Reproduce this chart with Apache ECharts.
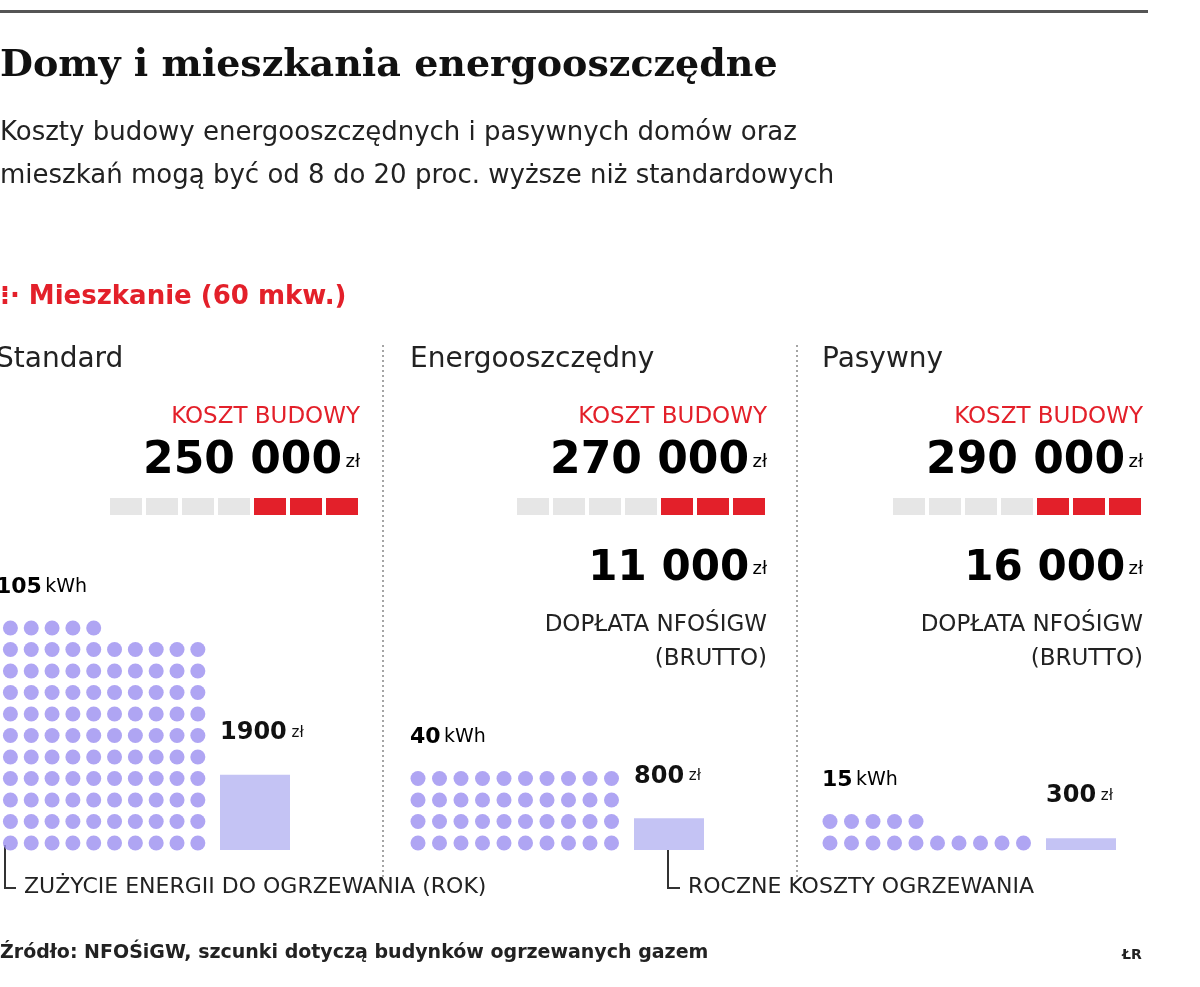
<!DOCTYPE html>
<html><head><meta charset="utf-8">
<script src="https://cdn.jsdelivr.net/npm/echarts@6/dist/echarts.min.js"></script>
<style>html,body{margin:0;padding:0;background:#fff}#c{width:1200px;height:987px}</style>
</head><body><div id="c"></div>
<script>
const categories = ['Standard', 'Energooszczędny', 'Pasywny'];
const energyKWh = [105, 40, 15];
const heatingCost = [1900, 800, 300];
const buildCost = ['250 000', '270 000', '290 000'];
const subsidy = [null, '11 000', '16 000'];

const panelLeft = [-6.75, 407.25, 819.25];
const panelRight = [360, 767, 1143];
const DOT = '#9b8ff0', BAR = '#c4c3f4', RED = '#e3202a';
const chart = echarts.init(document.getElementById('c'));
const grid = [], xAxis = [], yAxis = [], series = [];
const graphic = [];
const F = '"DejaVu Sans", sans-serif';

categories.forEach((c, i) => {
  grid.push({left: panelLeft[i], top: 617.25, width: 215, height: 236.5});
  xAxis.push({type: 'value', gridIndex: 2*i, min: -0.5, max: 9.5, show: false});
  yAxis.push({type: 'value', gridIndex: 2*i, min: -0.5, max: 10.5, show: false});
  const pts = [];
  for (let k = 0; k < energyKWh[i]; k++) pts.push([k % 10, Math.floor(k / 10)]);
  series.push({type: 'scatter', xAxisIndex: 2*i, yAxisIndex: 2*i, data: pts, symbolSize: 15,
    itemStyle: {color: DOT}, silent: true});
  grid.push({left: panelLeft[i] + 226.75, top: 612.5, width: 70, height: 237.5});
  xAxis.push({type: 'category', gridIndex: 2*i+1, data: [c], show: false});
  yAxis.push({type: 'value', gridIndex: 2*i+1, min: 0, max: 6000, show: false});
  series.push({type: 'bar', xAxisIndex: 2*i+1, yAxisIndex: 2*i+1, data: [heatingCost[i]], barWidth: 70,
    itemStyle: {color: BAR}, silent: true,
    label: {show: true, position: 'top', distance: 30, align: 'left', offset: [-35, 0],
      formatter: '{a|' + heatingCost[i] + '}{b| zł}',
      rich: {a: {fontFamily: F, fontWeight: 'bold', fontSize: 24, color: '#111'}, b: {fontFamily: F, fontSize: 15, color: '#111'}}}});

  const L = panelLeft[i] + 6.75;
  graphic.push({type: 'text', left: L - 4, top: 346, style: {text: c, font: '28px ' + F, fill: '#222'}});
  graphic.push({type: 'text', right: 1200 - panelRight[i], top: 406, style: {text: 'KOSZT BUDOWY', font: '23px ' + F, fill: RED}});
  graphic.push({type: 'text', right: 1200 - panelRight[i], top: 440, style: {text: '{a|' + buildCost[i] + '} {b|zł}',
    rich: {a: {fontWeight: 'bold', fontSize: 44, fontFamily: F, color: RED}, b: {fontSize: 18, fontFamily: F, color: RED}}}});
  for (let s = 0; s < 7; s++) {
    graphic.push({type: 'rect', shape: {x: panelRight[i] - 250 + s * 36, y: 498, width: 32, height: 17},
      style: {fill: s < 4 ? '#e6e6e6' : RED}});
  }
  graphic.push({type: 'text', left: L - 4, top: 580, style: {text: '{a|' + energyKWh[i] + '} {b|kWh}',
    rich: {a: {fontWeight: 'bold', fontSize: 22, fontFamily: F, color: '#111'}, b: {fontSize: 19, fontFamily: F, color: '#111'}}}});
  if (subsidy[i]) {
    graphic.push({type: 'text', right: 1200 - panelRight[i], top: 548, style: {text: '{a|' + subsidy[i] + '} {b|zł}',
      rich: {a: {fontWeight: 'bold', fontSize: 42, fontFamily: F, color: '#111'}, b: {fontSize: 18, fontFamily: F, color: '#111'}}}});
    graphic.push({type: 'text', right: 1200 - panelRight[i], top: 614, style: {text: 'DOPŁATA NFOŚIGW', font: '23px ' + F, fill: '#222'}});
    graphic.push({type: 'text', right: 1200 - panelRight[i], top: 648, style: {text: '(BRUTTO)', font: '23px ' + F, fill: '#222'}});
  }
});
const topRows = energyKWh.map(v => Math.ceil(v / 10) - 1);
let kIdx = 0;
graphic.forEach(g => { if (g.style && g.style.text && String(g.style.text).indexOf('kWh') >= 0) {
  g.top = 843 - topRows[kIdx] * 21.5 - 52; kIdx++; } });

graphic.push(
  {type: 'rect', shape: {x: 0, y: 10, width: 1148, height: 3}, style: {fill: '#555'}},
  {type: 'text', left: 0, top: 47, style: {text: 'Domy i mieszkania energooszczędne', font: 'bold 38px "DejaVu Serif", serif', fill: '#111'}},
  {type: 'text', left: 0, top: 112, style: {text: 'Koszty budowy energooszczędnych i pasywnych domów oraz\nmieszkań mogą być od 8 do 20 proc. wyższe niż standardowych', font: '26px ' + F, fill: '#222', lineHeight: 43}},
  {type: 'text', left: 0, top: 284, style: {text: '⁝· Mieszkanie (60 mkw.)', font: 'bold 26px ' + F, fill: RED}},
  {type: 'line', shape: {x1: 383, y1: 345, x2: 383, y2: 880}, style: {stroke: '#888', lineWidth: 1.5, lineDash: [2, 3]}},
  {type: 'line', shape: {x1: 797, y1: 345, x2: 797, y2: 880}, style: {stroke: '#888', lineWidth: 1.5, lineDash: [2, 3]}},
  {type: 'polyline', shape: {points: [[5, 845], [5, 888], [16, 888]]}, style: {stroke: '#333', lineWidth: 2, fill: null}},
  {type: 'text', left: 24, top: 876, style: {text: 'ZUŻYCIE ENERGII DO OGRZEWANIA (ROK)', font: '22px ' + F, fill: '#222'}},
  {type: 'polyline', shape: {points: [[668, 835], [668, 888], [680, 888]]}, style: {stroke: '#333', lineWidth: 2, fill: null}},
  {type: 'text', left: 688, top: 876, style: {text: 'ROCZNE KOSZTY OGRZEWANIA', font: '22px ' + F, fill: '#222'}},
  {type: 'text', left: 0, top: 944, style: {text: 'Źródło: NFOŚiGW, szcunki dotyczą budynków ogrzewanych gazem', font: 'bold 19px ' + F, fill: '#222'}},
  {type: 'text', left: 1122, top: 948, style: {text: 'ŁR', font: 'bold 14px ' + F, fill: '#222'}}
);

chart.setOption({animation: false, grid, xAxis, yAxis, series, graphic});
</script></body></html>
